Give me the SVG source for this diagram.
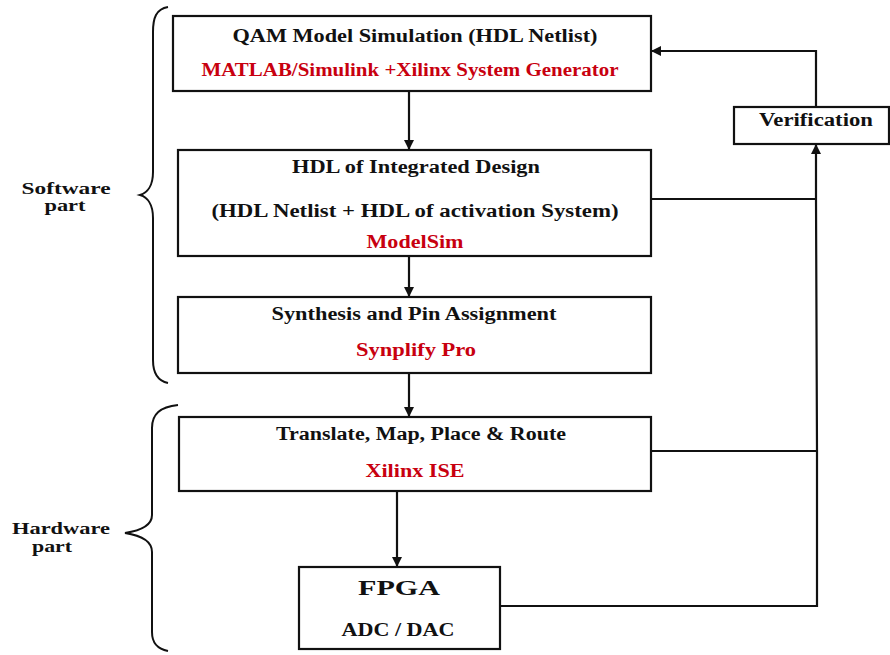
<svg xmlns="http://www.w3.org/2000/svg" width="890" height="655" viewBox="0 0 890 655">
<style>
.box{fill:#fff;stroke:#111;stroke-width:2.2}
.ln{fill:none;stroke:#111;stroke-width:2.2}
.br{fill:none;stroke:#111;stroke-width:2}
text{font-family:"Liberation Serif","Times New Roman",serif;font-weight:bold;font-size:18px;fill:#111}
.red{fill:#c8000f}
.big{font-size:21px}
.lab{font-size:16px}
</style>
<defs>
<marker id="ah" viewBox="0 0 10 10" refX="10" refY="5" markerWidth="10" markerHeight="10" markerUnits="userSpaceOnUse" orient="auto">
<path d="M0,0 L10,5 L0,10 Z" fill="#111"/>
</marker>
</defs>
<rect width="890" height="655" fill="#fff"/>
<g id="braces">
<path class="br" d="M168,7 C156,9 153,18 153,32 L153,172 C153,186 147,193 140,195 C147,197 153,204 153,218 L153,360 C153,374 158,381 168,383"/>
<path class="br" d="M178,405 C160,407 152,414 152,428 L152,515 C152,527 138,531 125,533 C138,535 152,540 152,552 L152,632 C152,644 158,649 168,651"/>
</g>
<g id="labels">
<text class="lab" x="66" y="194" text-anchor="middle" textLength="89" lengthAdjust="spacingAndGlyphs">Software</text>
<text class="lab" x="65" y="211" text-anchor="middle" textLength="41" lengthAdjust="spacingAndGlyphs">part</text>
<text class="lab" x="61" y="534" text-anchor="middle" textLength="98" lengthAdjust="spacingAndGlyphs">Hardware</text>
<text class="lab" x="52" y="552" text-anchor="middle" textLength="40" lengthAdjust="spacingAndGlyphs">part</text>
</g>
<g id="connectors">
<line class="ln" x1="409" y1="91" x2="409" y2="150" marker-end="url(#ah)"/>
<line class="ln" x1="409" y1="256" x2="409" y2="297" marker-end="url(#ah)"/>
<line class="ln" x1="409" y1="373" x2="409" y2="417" marker-end="url(#ah)"/>
<line class="ln" x1="397" y1="491" x2="397" y2="567" marker-end="url(#ah)"/>
<polyline class="ln" points="651,199 816,199"/>
<polyline class="ln" points="651,451 817,451"/>
<polyline class="ln" points="500,606 817,606 817,451 816,199 816,144" marker-end="url(#ah)"/>
<polyline class="ln" points="816,107 816,51 651,51" marker-end="url(#ah)"/>
</g>
<g id="qam">
<rect class="box" x="173" y="16" width="478" height="75"/>
<text x="415" y="42" text-anchor="middle" textLength="365" lengthAdjust="spacingAndGlyphs">QAM Model Simulation (HDL Netlist)</text>
<text class="red" x="410" y="76" text-anchor="middle" textLength="417" lengthAdjust="spacingAndGlyphs">MATLAB/Simulink +Xilinx System Generator</text>
</g>
<g id="hdl">
<rect class="box" x="178" y="150" width="473" height="106"/>
<text x="416" y="173" text-anchor="middle" textLength="248" lengthAdjust="spacingAndGlyphs">HDL of Integrated Design</text>
<text x="415" y="217" text-anchor="middle" textLength="407" lengthAdjust="spacingAndGlyphs">(HDL Netlist + HDL of activation System)</text>
<text class="red" x="415" y="248" text-anchor="middle" textLength="97" lengthAdjust="spacingAndGlyphs">ModelSim</text>
</g>
<g id="synth">
<rect class="box" x="178" y="297" width="473" height="76"/>
<text x="414" y="320" text-anchor="middle" textLength="285" lengthAdjust="spacingAndGlyphs">Synthesis and Pin Assignment</text>
<text class="red" x="416" y="356" text-anchor="middle" textLength="120" lengthAdjust="spacingAndGlyphs">Synplify Pro</text>
</g>
<g id="translate">
<rect class="box" x="179" y="417" width="472" height="74"/>
<text x="421" y="440" text-anchor="middle" textLength="290" lengthAdjust="spacingAndGlyphs">Translate, Map, Place &amp; Route</text>
<text class="red" x="415" y="477" text-anchor="middle" textLength="99" lengthAdjust="spacingAndGlyphs">Xilinx ISE</text>
</g>
<g id="fpga">
<rect class="box" x="299" y="567" width="201" height="82"/>
<text class="big" x="399" y="595" text-anchor="middle" textLength="82" lengthAdjust="spacingAndGlyphs">FPGA</text>
<text x="398" y="636" text-anchor="middle" textLength="113" lengthAdjust="spacingAndGlyphs">ADC / DAC</text>
</g>
<g id="verification">
<rect class="box" x="734" y="107" width="155" height="37"/>
<text x="816" y="126" text-anchor="middle" textLength="114" lengthAdjust="spacingAndGlyphs">Verification</text>
</g>
</svg>
